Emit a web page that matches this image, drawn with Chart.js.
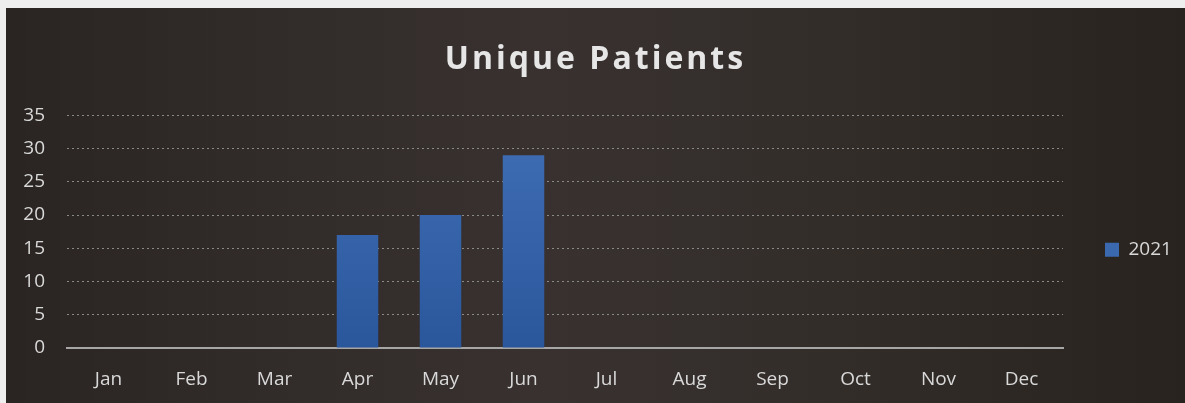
<!DOCTYPE html>
<html>
<head>
<meta charset="utf-8">
<script src="https://cdn.jsdelivr.net/npm/chart.js@4"></script>
<style>
  html, body { margin: 0; padding: 0; background: #eeeeee; width: 1185px; height: 403px; overflow: hidden; }
  #wrap {
    position: absolute; left: 6px; top: 8px; width: 1179px; height: 395px;
    background: linear-gradient(90deg, #2a2522 0%, #383130 45%, #332d2a 70%, #292320 100%);
  }
</style>
</head>
<body>
<div id="wrap"><canvas id="chart"></canvas></div>
<script>
// --- Daten ---
const months = ['Jan', 'Feb', 'Mar', 'Apr', 'May', 'Jun', 'Jul', 'Aug', 'Sep', 'Oct', 'Nov', 'Dec'];
const patients2021 = [null, null, null, 17, 20, 29, null, null, null, null, null, null];
const seriesName = '2021';
const chartTitle = 'Unique Patients';

const textColor = '#d9d9d9';
const legendBlue = '#3a69b0';

// Balken mit leichtem Verlauf
function barFill(context) {
    const area = context.chart.chartArea;
    if (!area) return legendBlue;
    const g = context.chart.ctx.createLinearGradient(0, area.top, 0, area.bottom);
    g.addColorStop(0, '#416fb6');
    g.addColorStop(1, '#2a579c');
    return g;
}

// Titel mit Sperrung, Legende mit fester Breite und etwas tiefer
const tweaks = {
    id: 'tweaks',
    afterInit(chart) {
        const lg = chart.legend;
        const fit = lg.fit.bind(lg);
        lg.fit = function () { fit(); this.width = 122; };
    },
    afterLayout(chart) {
        chart.legend.top += 18;
        chart.legend.bottom += 18;
    },
    beforeDraw(chart) {
        const t = chart.titleBlock;
        if (t && !t._wrapped) {
            const d = t.draw.bind(t);
            t.draw = function (a) {
                this.ctx.save();
                this.ctx.letterSpacing = '3px';
                d(a);
                this.ctx.restore();
            };
            t._wrapped = true;
        }
    }
};

new Chart(document.getElementById('chart'), {
    type: 'bar',
    data: {
        labels: months,
        datasets: [{
            label: seriesName,
            data: patients2021,
            backgroundColor: barFill,
            borderWidth: 0,
            barPercentage: 0.5,
            categoryPercentage: 1
        }]
    },
    options: {
        responsive: true,
        maintainAspectRatio: false,
        animation: false,
        layout: { padding: 0 },
        scales: {
            x: {
                grid: { display: false, drawTicks: false },
                border: { display: true, color: '#a6a6a6', width: 2 },
                ticks: { color: textColor, font: { family: 'Open Sans', size: 19 }, padding: 20 },
                afterFit(s) { s.height = 55; }
            },
            y: {
                min: 0,
                max: 35,
                ticks: { stepSize: 5, color: textColor, font: { family: 'Open Sans', size: 19 }, padding: 22 },
                grid: {
                    drawTicks: false,
                    color: (c) => c.tick && c.tick.value === 0 ? 'rgba(0,0,0,0)' : '#8a8a8a',
                    lineWidth: 1
                },
                border: { display: false, dash: [2, 3] },
                afterFit(s) { s.width = 61; }
            }
        },
        plugins: {
            title: {
                display: true,
                text: chartTitle,
                color: '#e6e6e6',
                font: { family: 'Open Sans', size: 32, weight: 'bold', lineHeight: 1.2 },
                padding: { top: 33, bottom: 36 }
            },
            legend: {
                position: 'right',
                fullSize: false,
                labels: {
                    color: textColor,
                    font: { family: 'Open Sans', size: 19 },
                    boxWidth: 14,
                    boxHeight: 14,
                    padding: 42,
                    generateLabels(chart) {
                        const items = Chart.defaults.plugins.legend.labels.generateLabels(chart);
                        items.forEach(i => { i.fillStyle = legendBlue; i.strokeStyle = legendBlue; i.lineWidth = 0; });
                        return items;
                    }
                }
            },
            tooltip: { enabled: false }
        }
    },
    plugins: [tweaks]
});
</script>
</body>
</html>
